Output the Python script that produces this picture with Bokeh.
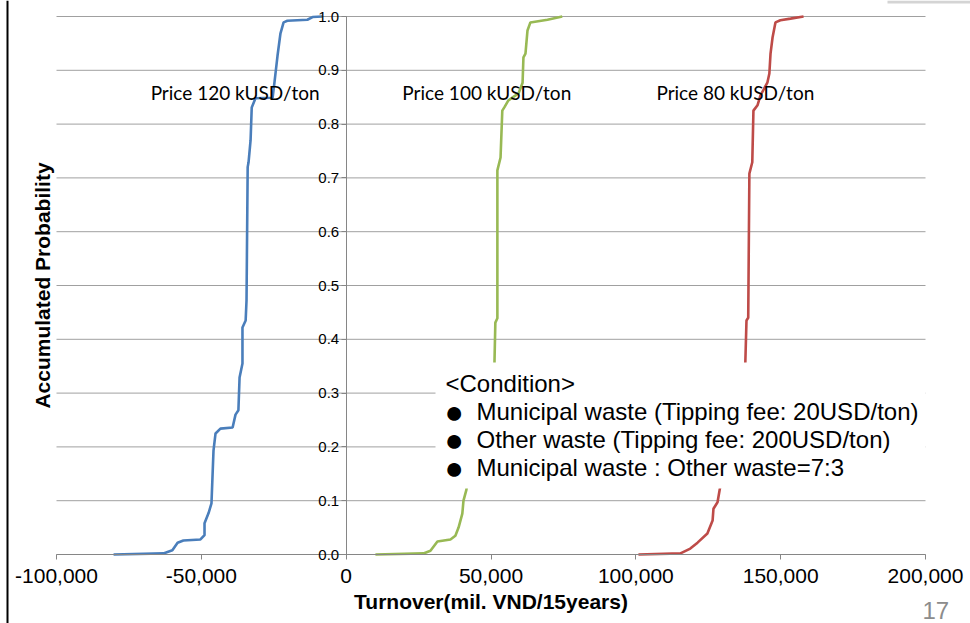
from bokeh.plotting import figure
from bokeh.models import (FixedTicker, Label, BoxAnnotation, Range1d,
                          LinearAxis, Grid)
from bokeh.embed import file_html
from bokeh.resources import INLINE

# ---------------- data (turnover in mil. VND / 15 years) ----------------
p120_turnover = [-80300, -63100, -60000, -58200, -56200, -50300, -48900, -48900,
                 -47500, -46500, -45800, -45100, -43400, -39200, -38200, -37200,
                 -36800, -35800, -35800, -34700, -34400, -34000, -33700, -33000,
                 -32600, -31300, -25400, -24700, -23700, -22700, -21600, -20300,
                 -13400, -11600, -8200]
p120_prob = [0.000, 0.002, 0.008, 0.022, 0.026, 0.028, 0.036, 0.058,
             0.077, 0.095, 0.193, 0.225, 0.234, 0.236, 0.260, 0.268,
             0.329, 0.355, 0.422, 0.435, 0.472, 0.720, 0.729, 0.770,
             0.831, 0.848, 0.849, 0.880, 0.927, 0.968, 0.989, 0.992,
             0.994, 0.999, 1.000]

p100_turnover = [10100, 26700, 29100, 31500, 36000, 37700, 38800, 40100, 40500,
                 41500, 42300, 48500, 50800, 51200, 51500, 52200, 52200, 53300,
                 53900, 54600, 56000, 59500, 60900, 61200, 61900, 62600, 63600,
                 69500, 74600]
p100_prob = [0.000, 0.002, 0.007, 0.024, 0.028, 0.035, 0.050, 0.076, 0.100,
             0.120, 0.150, 0.200, 0.260, 0.357, 0.431, 0.439, 0.714, 0.738,
             0.825, 0.831, 0.844, 0.857, 0.877, 0.924, 0.931, 0.974, 0.989,
             0.994, 1.000]

p80_turnover = [100900, 115400, 118800, 121300, 124700, 126500, 126800, 128200,
                128900, 130000, 136500, 137500, 137800, 138200, 138800, 139200,
                140200, 140600, 142000, 143000, 145400, 146100, 146500, 147200,
                148200, 149900, 153400, 157900]
p80_prob = [0.000, 0.002, 0.011, 0.022, 0.039, 0.063, 0.085, 0.097,
            0.119, 0.150, 0.200, 0.280, 0.357, 0.435, 0.440, 0.708,
            0.729, 0.825, 0.835, 0.853, 0.877, 0.894, 0.931, 0.961,
            0.989, 0.993, 0.996, 1.000]

price_labels = ["Price 120 kUSD/ton", "Price 100 kUSD/ton", "Price 80 kUSD/ton"]
price_label_x = [-67500, 19400, 107100]

x_ticks = [-100000, -50000, 0, 50000, 100000, 150000, 200000]
x_tick_labels = ["-100,000", "-50,000", "0", "50,000", "100,000", "150,000", "200,000"]
y_ticks = [0.0, 0.1, 0.2, 0.3, 0.4, 0.5, 0.6, 0.7, 0.8, 0.9, 1.0]
y_tick_labels = ["0.0", "0.1", "0.2", "0.3", "0.4", "0.5", "0.6", "0.7", "0.8", "0.9", "1.0"]

x_title = "Turnover(mil. VND/15years)"
y_title = "Accumulated Probability"
condition_title = "<Condition>"
conditions = ["Municipal waste (Tipping fee: 20USD/ton)",
              "Other waste (Tipping fee: 200USD/ton)",
              "Municipal waste : Other waste=7:3"]
page_number = "17"

# ---------------- geometry (canvas pixels) ----------------
W, H = 970, 623
L_PX, R_PX, T_PX, B_PX = 56, 925, 16, 554
xs, xe = x_ticks[0], x_ticks[-1]
ys, ye = y_ticks[0], y_ticks[-1]
kx = (xe - xs) / (R_PX - L_PX)
ky = (ye - ys) / (B_PX - T_PX)


def px2x(px):
    return xs + (px - L_PX) * kx


def px2y(py):
    return ys + (B_PX - py) * ky


FONT = "Liberation Sans"
p = figure(width=W, height=H, output_backend="svg", toolbar_location=None,
           x_range=Range1d(px2x(0), px2x(W)), y_range=Range1d(px2y(H), px2y(0)),
           x_axis_location=None, y_axis_location=None, min_border=0)
p.outline_line_color = None
p.background_fill_color = "white"
p.border_fill_color = "white"
# drop the default grids; horizontal grid lines are drawn over the axis extent below
p.renderers = [r for r in p.renderers if not isinstance(r, Grid)]
p.center = [r for r in p.center if not isinstance(r, Grid)]

# horizontal grid lines spanning the x-axis extent
p.segment(x0=[xs] * len(y_ticks), x1=[xe] * len(y_ticks), y0=y_ticks, y1=y_ticks,
          line_color="#a0a0a0", line_width=1, level="underlay")

# curves
p.line(p120_turnover, p120_prob, line_color="#4A7EBB", line_width=2.6)
p.line(p100_turnover, p100_prob, line_color="#98B954", line_width=2.6)
p.line(p80_turnover, p80_prob, line_color="#BE4B48", line_width=2.6)

# x axis at y = 0
xaxis = LinearAxis(fixed_location=0, bounds=(xs, xe),
                   ticker=FixedTicker(ticks=x_ticks),
                   major_label_overrides={t: l for t, l in zip(x_ticks, x_tick_labels)},
                   axis_label=x_title)
xaxis.axis_line_color = "#868686"
xaxis.major_tick_line_color = "#868686"
xaxis.major_tick_out = 5
xaxis.major_tick_in = 0
xaxis.minor_tick_line_color = None
xaxis.major_label_text_font = FONT
xaxis.major_label_text_font_size = "21px"
xaxis.major_label_text_color = "black"
xaxis.major_label_standoff = 9
xaxis.axis_label_text_font = FONT
xaxis.axis_label_text_font_size = "21px"
xaxis.axis_label_text_font_style = "bold"
xaxis.axis_label_text_color = "black"
xaxis.axis_label_standoff = 4
p.add_layout(xaxis, "below")

# y axis at x = 0
yaxis = LinearAxis(fixed_location=0, bounds=(ys, ye),
                   ticker=FixedTicker(ticks=y_ticks),
                   major_label_overrides={t: l for t, l in zip(y_ticks, y_tick_labels)})
yaxis.axis_line_color = "#868686"
yaxis.major_tick_line_color = "#868686"
yaxis.major_tick_out = 5
yaxis.major_tick_in = 0
yaxis.minor_tick_line_color = None
yaxis.major_label_text_font = FONT
yaxis.major_label_text_font_size = "15px"
yaxis.major_label_text_color = "black"
yaxis.major_label_standoff = 2
p.add_layout(yaxis, "left")

# y axis title at the left edge of the plot area
ytitle = LinearAxis(fixed_location=xs, bounds=(ys, ye), ticker=FixedTicker(ticks=[]),
                    axis_label=y_title)
ytitle.axis_line_color = None
ytitle.major_tick_line_color = None
ytitle.minor_tick_line_color = None
ytitle.axis_label_text_font = FONT
ytitle.axis_label_text_font_size = "21px"
ytitle.axis_label_text_font_style = "bold"
ytitle.axis_label_text_color = "black"
ytitle.axis_label_standoff = 3
p.add_layout(ytitle, "left")

# price labels
for lbl, lx in zip(price_labels, price_label_x):
    p.add_layout(Label(x=lx, y=px2y(92), text=lbl, text_font="Lato",
                       text_font_size="19px", text_color="black",
                       text_baseline="middle"))

# white condition text box
p.add_layout(BoxAnnotation(left=px2x(435), right=xe, bottom=px2y(488), top=px2y(362),
                           fill_color="white", fill_alpha=1.0, line_color=None))
p.add_layout(Label(x=px2x(445), y=px2y(383), text=condition_title, text_font=FONT,
                   text_font_size="24px", text_color="black", text_baseline="middle"))
for i, c in enumerate(conditions):
    cy = px2y(411 + 28 * i)
    p.add_layout(Label(x=px2x(444), y=cy, text="\u25cf", text_font=FONT,
                       text_font_size="32px", text_color="black", text_baseline="middle"))
    p.add_layout(Label(x=px2x(476), y=cy, text=c, text_font=FONT,
                       text_font_size="24px", text_color="black", text_baseline="middle"))

# slide decorations
p.add_layout(Label(x=px2x(922), y=px2y(610), text=page_number, text_font=FONT,
                   text_font_size="24px", text_color="#8c8c8c", text_baseline="middle"))
p.add_layout(BoxAnnotation(left=px2x(6), right=px2x(8),
                           fill_color="black", fill_alpha=1.0, line_color=None))
p.add_layout(BoxAnnotation(left=px2x(887), bottom=px2y(3),
                           fill_color="#d4d4d4", fill_alpha=1.0, line_color=None))

open("out.html", "w").write(file_html(p, INLINE))
